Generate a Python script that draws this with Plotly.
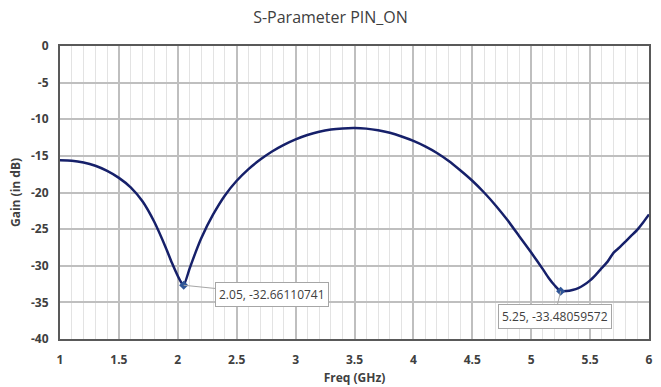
import plotly.graph_objects as go

freq = [1.0, 1.1, 1.2, 1.3, 1.4, 1.5, 1.6, 1.7, 1.8, 1.9, 1.95, 2.0, 2.03, 2.05, 2.1, 2.15,
        2.2, 2.3, 2.4, 2.5, 2.6, 2.7, 2.8, 2.9, 3.0, 3.1, 3.2, 3.3, 3.4, 3.5, 3.6, 3.7, 3.8,
        3.9, 4.0, 4.1, 4.2, 4.3, 4.4, 4.5, 4.6, 4.7, 4.8, 4.9, 5.0, 5.1, 5.15, 5.2, 5.25,
        5.3, 5.35, 5.4, 5.45, 5.5, 5.55, 5.6, 5.65, 5.7, 5.75, 5.8, 5.85, 5.9, 5.95, 6.0]
gain = [-15.6, -15.65, -15.9, -16.35, -17.05, -18.0, -19.3, -21.2, -24.0, -27.6, -29.6, -31.4,
        -32.3, -32.66110741, -30.4, -28.2, -26.2, -23.0, -20.4, -18.4, -16.8, -15.5,
        -14.4, -13.5, -12.75, -12.15, -11.7, -11.4, -11.25, -11.2, -11.28, -11.5, -11.85,
        -12.35, -12.95, -13.7, -14.6, -15.7, -17.0, -18.4, -20.0, -21.8, -23.8, -26.0, -28.2,
        -30.5, -31.7, -32.7, -33.48059572, -33.45, -33.3, -33.05, -32.6, -32.0, -31.2, -30.3,
        -29.4, -28.2, -27.5, -26.7, -25.9, -25.1, -24.1, -23.0]

marker_x = [2.05, 5.25]
marker_y = [-32.66110741, -33.48059572]
label_offsets = [(88, 9), (-6, 25)]

title_text = "S-Parameter PIN_ON"
x_title = "Freq (GHz)"
y_title = "Gain (in dB)"
x_ticks = [1, 1.5, 2, 2.5, 3, 3.5, 4, 4.5, 5, 5.5, 6]
x_ticklabels = ["1", "1.5", "2", "2.5", "3", "3.5", "4", "4.5", "5", "5.5", "6"]
y_ticks = [0, -5, -10, -15, -20, -25, -30, -35, -40]
y_ticklabels = ["0", "-5", "-10", "-15", "-20", "-25", "-30", "-35", "-40"]

fig = go.Figure()
fig.add_trace(go.Scatter(x=freq, y=gain, mode="lines",
                         line=dict(color="#16206a", width=2.5, shape="spline", smoothing=0.6),
                         showlegend=False, hoverinfo="x+y"))
fig.add_trace(go.Scatter(x=marker_x, y=marker_y, mode="markers",
                         marker=dict(color="#2f5597", size=7, symbol="diamond"),
                         showlegend=False))

for mx, my, (ax, ay) in zip(marker_x, marker_y, label_offsets):
    fig.add_annotation(x=mx, y=my, xref="x", yref="y",
                       text=f"{mx:g}, {my:.8f}",
                       showarrow=True, arrowhead=0, arrowwidth=1, arrowcolor="#a6a6a6",
                       ax=ax, ay=ay, bgcolor="white", bordercolor="#a6a6a6", borderwidth=1,
                       borderpad=3, font=dict(family="Open Sans", size=12, color="#404040"))

fig.update_layout(
    width=661, height=387,
    margin=dict(l=60, r=12, t=46, b=48),
    paper_bgcolor="white", plot_bgcolor="white",
    title=dict(text=title_text, x=0.5, xanchor="center", y=0.955, yanchor="middle",
               font=dict(family="Open Sans", size=16, color="#404040")),
    font=dict(family="Open Sans", color="#404040"),
)
fig.update_xaxes(range=[1, 6], tickvals=x_ticks, ticktext=x_ticklabels, automargin=False,
                 showgrid=True, gridcolor="#bfbfbf", gridwidth=1.5,
                 minor=dict(dtick=0.1, tick0=1, showgrid=True, gridcolor="#e3e3e3", gridwidth=1),
                 showline=True, linecolor="#595959", linewidth=2, mirror=True,
                 ticks="", zeroline=False, ticklabelstandoff=9,
                 tickfont=dict(family="Open Sans", size=12, color="#404040", weight="bold"),
                 title=dict(text=x_title, standoff=6,
                            font=dict(family="Open Sans", size=12, color="#404040", weight="bold")))
fig.update_yaxes(range=[-40, 0], tickvals=y_ticks, ticktext=y_ticklabels, automargin=False,
                 showgrid=True, gridcolor="#bfbfbf", gridwidth=1.5,
                 showline=True, linecolor="#595959", linewidth=2, mirror=True,
                 ticks="", zeroline=False, ticklabelstandoff=7,
                 tickfont=dict(family="Open Sans", size=12, color="#404040", weight="bold"),
                 title=dict(text=y_title, standoff=8,
                            font=dict(family="Open Sans", size=12, color="#404040", weight="bold")))

fig.write_html("out.html")
